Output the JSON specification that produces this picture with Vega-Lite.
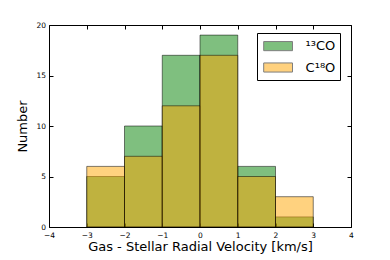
{
  "$schema": "https://vega.github.io/schema/vega-lite/v6.json",
  "width": 302,
  "height": 202,
  "autosize": "none",
  "padding": {"left": 49, "top": 25, "right": 39, "bottom": 33},
  "config": {
    "font": "DejaVu Sans",
    "view": {"stroke": "#000", "strokeWidth": 1},
    "axis": {
      "grid": false,
      "domain": false,
      "tickColor": "#000",
      "tickSize": -4,
      "labelFont": "DejaVu Sans",
      "labelFontSize": 7.5,
      "labelColor": "#000",
      "titleFont": "DejaVu Sans",
      "titleFontSize": 13,
      "titleFontWeight": "normal",
      "titleColor": "#000",
      "labelFlush": false
    }
  },
  "data": {
    "values": [
      {"gas": "¹³CO", "start": -3, "end": -2, "count": 5},
      {"gas": "¹³CO", "start": -2, "end": -1, "count": 10},
      {"gas": "¹³CO", "start": -1, "end": 0, "count": 17},
      {"gas": "¹³CO", "start": 0, "end": 1, "count": 19},
      {"gas": "¹³CO", "start": 1, "end": 2, "count": 6},
      {"gas": "¹³CO", "start": 2, "end": 3, "count": 1},
      {"gas": "C¹⁸O", "start": -3, "end": -2, "count": 6},
      {"gas": "C¹⁸O", "start": -2, "end": -1, "count": 7},
      {"gas": "C¹⁸O", "start": -1, "end": 0, "count": 12},
      {"gas": "C¹⁸O", "start": 0, "end": 1, "count": 17},
      {"gas": "C¹⁸O", "start": 1, "end": 2, "count": 5},
      {"gas": "C¹⁸O", "start": 2, "end": 3, "count": 3}
    ]
  },
  "resolve": {"axis": {"x": "independent", "y": "independent"}},
  "layer": [
    {
      "transform": [{"filter": "datum.gas === '¹³CO'"}],
      "mark": {"type": "bar", "fillOpacity": 0.5, "stroke": "#000", "strokeOpacity": 0.5, "strokeWidth": 1},
      "encoding": {
        "x": {"field": "start", "type": "quantitative", "scale": {"domain": [-4, 4], "nice": false, "padding": 0},
              "axis": {"orient": "bottom", "values": [-4, -3, -2, -1, 0, 1, 2, 3, 4], "labelPadding": 8, "title": "Gas - Stellar Radial Velocity [km/s]", "titlePadding": 2}},
        "x2": {"field": "end"},
        "y": {"field": "count", "type": "quantitative", "stack": null, "scale": {"domain": [0, 20], "nice": false, "padding": 0},
              "axis": {"orient": "left", "values": [0, 5, 10, 15, 20], "labelPadding": 7.5, "title": "Number", "titlePadding": 6}},
        "y2": {"datum": 0},
        "color": {"field": "gas", "type": "nominal",
                  "scale": {"domain": ["¹³CO", "C¹⁸O"], "range": ["#008000", "#FFA500"]},
                  "legend": {
                    "title": null,
                    "orient": "none",
                    "legendX": 208,
                    "legendY": 8,
                    "strokeColor": "#000",
                    "fillColor": "#fff",
                    "padding": 4.6,
                    "symbolType": "M-1.8,-0.57H1.8V0.57H-1.8Z",
                    "symbolSize": 256,
                    "symbolOpacity": 0.5,
                    "symbolStrokeColor": "#000",
                    "symbolStrokeWidth": 1,
                    "symbolOffset": 8,
                    "labelOffset": 19,
                    "labelFont": "DejaVu Sans",
                    "labelFontSize": 13,
                    "labelColor": "#000",
                    "rowPadding": 5.4
                  }}
      }
    },
    {
      "transform": [{"filter": "datum.gas === 'C¹⁸O'"}],
      "mark": {"type": "bar", "fillOpacity": 0.5, "stroke": "#000", "strokeOpacity": 0.5, "strokeWidth": 1},
      "encoding": {
        "x": {"field": "start", "type": "quantitative",
              "axis": {"orient": "top", "values": [-4, -3, -2, -1, 0, 1, 2, 3, 4], "labels": false, "title": null}},
        "x2": {"field": "end"},
        "y": {"field": "count", "type": "quantitative", "stack": null,
              "axis": {"orient": "right", "values": [0, 5, 10, 15, 20], "labels": false, "title": null}},
        "y2": {"datum": 0},
        "color": {"field": "gas", "type": "nominal"}
      }
    }
  ]
}
